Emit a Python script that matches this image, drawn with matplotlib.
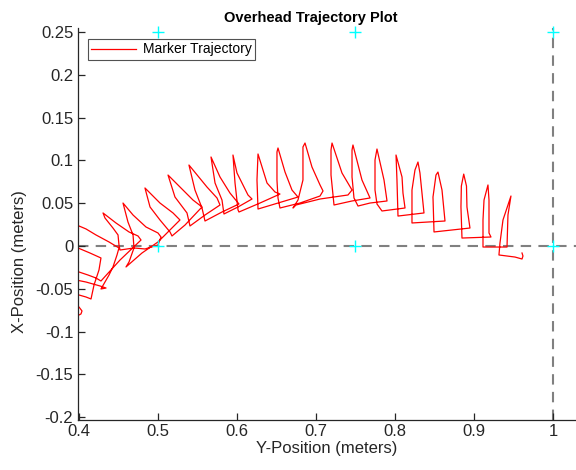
import matplotlib
matplotlib.use("Agg")
import matplotlib.pyplot as plt
from matplotlib.ticker import FixedLocator, FixedFormatter

plt.rcParams['font.family'] = ['Liberation Sans', 'DejaVu Sans']

# Trajectory: Y-position (horizontal axis) and X-position (vertical axis), metres
traj_y = [
    0.3886, 0.3975, 0.4025, 0.4038, 0.4000, 0.3937, 0.3861, 0.3911, 0.4089, 0.4152,
    0.4190, 0.4253, 0.4278,
    0.4139, 0.3987, 0.3861,
    0.3835, 0.3962, 0.4089, 0.4177, 0.4266, 0.4342, 0.4278,
    0.4380, 0.4430, 0.4481, 0.4506,
    0.4380, 0.4215, 0.4089, 0.4000, 0.3962, 0.3886, 0.3962, 0.4114, 0.4215, 0.4278,
    0.4519, 0.4785,
    0.4747, 0.4633, 0.4468, 0.4304, 0.4329, 0.4430, 0.4494, 0.4506, 0.4519,
    0.4696, 0.4835, 0.5000, 0.5038,
    0.5000, 0.4848, 0.4684, 0.4557, 0.4570, 0.4620, 0.4684, 0.4696, 0.4633, 0.4595,
    0.4797, 0.5000, 0.5152, 0.5278,
    0.5190, 0.5025, 0.4835, 0.4899, 0.5025, 0.5152, 0.5177,
    0.5342, 0.5557,
    0.5443, 0.5278, 0.5127, 0.5215, 0.5367, 0.5405,
    0.5595, 0.5785,
    0.5747, 0.5620, 0.5392, 0.5468, 0.5557, 0.5595,
    0.5810, 0.6025,
    0.5911, 0.5785, 0.5671, 0.5722, 0.5810, 0.5835,
    0.6013, 0.6190,
    0.6139, 0.6000, 0.5949, 0.5975, 0.6013, 0.6025,
    0.6291, 0.6544,
    0.6481, 0.6380, 0.6266, 0.6253, 0.6266,
    0.6519, 0.6772,
    0.6696, 0.6608, 0.6519, 0.6506, 0.6506, 0.6519, 0.6544,
    0.6797, 0.7051, 0.7089,
    0.7051, 0.6949, 0.6861, 0.6835, 0.6835, 0.6772, 0.6709,
    0.6747, 0.7051, 0.7405, 0.7456,
    0.7329, 0.7203, 0.7190, 0.7190, 0.7215, 0.7228,
    0.7456, 0.7684,
    0.7582, 0.7468, 0.7456, 0.7456, 0.7481, 0.7532,
    0.7684, 0.7899,
    0.7861, 0.7772, 0.7747, 0.7747, 0.7772, 0.7835,
    0.8127,
    0.8101, 0.8089, 0.8013, 0.8025, 0.8038,
    0.8367,
    0.8342, 0.8316, 0.8291, 0.8253, 0.8215, 0.8215,
    0.8633,
    0.8595, 0.8544, 0.8519, 0.8481, 0.8494,
    0.8949,
    0.8911, 0.8905, 0.8870, 0.8840, 0.8835, 0.8848,
    0.9215,
    0.9190, 0.9190, 0.9177, 0.9127, 0.9114, 0.9114,
    0.9418,
    0.9430, 0.9468, 0.9367, 0.9329, 0.9316,
    0.9519, 0.9608, 0.9620, 0.9608,
]
traj_x = [
    -0.0864, -0.0818, -0.0794, -0.0759, -0.0713, -0.0689, -0.0631, -0.0549, -0.0596, -0.0619,
    -0.0456, -0.0280, -0.0140,
    -0.0082, -0.0023, 0.0047,
    -0.0187, -0.0397, -0.0421, -0.0444, -0.0467, -0.0491, -0.0502,
    -0.0339, -0.0245, -0.0105, -0.0023,
    0.0047, 0.0129, 0.0199, 0.0234, 0.0164, -0.0047, -0.0292, -0.0339, -0.0374, -0.0409,
    -0.0164, 0.0070,
    0.0117, 0.0164, 0.0269, 0.0386, 0.0327, 0.0210, 0.0129, 0.0012, -0.0047,
    -0.0023, -0.0035, 0.0012, 0.0105,
    0.0152, 0.0222, 0.0362, 0.0502, 0.0456, 0.0280, 0.0129, -0.0023, -0.0187, -0.0245,
    -0.0082, 0.0047, 0.0187, 0.0304,
    0.0386, 0.0502, 0.0678, 0.0456, 0.0304, 0.0164, 0.0117,
    0.0245, 0.0456,
    0.0537, 0.0689, 0.0829, 0.0572, 0.0386, 0.0234,
    0.0362, 0.0479,
    0.0561, 0.0689, 0.0946, 0.0654, 0.0444, 0.0292,
    0.0397, 0.0491,
    0.0619, 0.0806, 0.1040, 0.0736, 0.0537, 0.0374,
    0.0456, 0.0549,
    0.0596, 0.0853, 0.1063, 0.0736, 0.0421, 0.0397,
    0.0502, 0.0607,
    0.0631, 0.0736, 0.1075, 0.0771, 0.0432,
    0.0502, 0.0572,
    0.0654, 0.0864, 0.1145, 0.1098, 0.0771, 0.0561, 0.0444,
    0.0502, 0.0584, 0.0643,
    0.0713, 0.0923, 0.1203, 0.1157, 0.0771, 0.0537, 0.0444,
    0.0479, 0.0549, 0.0596, 0.0654,
    0.0853, 0.1203, 0.1121, 0.0829, 0.0596, 0.0479,
    0.0526, 0.0561,
    0.0771, 0.1180, 0.1121, 0.0806, 0.0561, 0.0467,
    0.0502, 0.0526,
    0.0771, 0.1133, 0.1005, 0.0654, 0.0491, 0.0409,
    0.0444,
    0.0619, 0.0806, 0.1063, 0.0771, 0.0350,
    0.0386,
    0.0619, 0.0853, 0.0981, 0.0888, 0.0654, 0.0269,
    0.0292,
    0.0654, 0.0864, 0.0829, 0.0572, 0.0164,
    0.0210,
    0.0456, 0.0700, 0.0840, 0.0700, 0.0456, 0.0093,
    0.0105,
    0.0152, 0.0537, 0.0713, 0.0537, 0.0304, -0.0012,
    -0.0012,
    0.0362, 0.0584, 0.0304, 0.0035, -0.0105,
    -0.0129, -0.0152, -0.0117, -0.0082,
]

# Reference target markers
target_y = [0.5, 0.75, 1.0, 0.5, 0.75, 1.0]
target_x = [0.25, 0.25, 0.25, 0.0, 0.0, 0.0]

x_ticks = [0.4, 0.5, 0.6, 0.7, 0.8, 0.9, 1.0]
x_tick_labels = ['0.4', '0.5', '0.6', '0.7', '0.8', '0.9', '1']
y_ticks = [-0.2, -0.15, -0.1, -0.05, 0, 0.05, 0.1, 0.15, 0.2, 0.25]
y_tick_labels = ['-0.2', '-0.15', '-0.1', '-0.05', '0', '0.05', '0.1', '0.15', '0.2', '0.25']

fig = plt.figure(figsize=(5.76, 4.70), dpi=100)
ax = fig.add_axes([77.5 / 576, 1 - 420 / 470, (575.5 - 77.5) / 576, (420 - 28) / 470])

ax.axhline(0, color='#808080', lw=1.5, ls=(0, (5, 3.5)), zorder=1)
ax.axvline(1.0, color='#808080', lw=1.5, ls=(0, (5, 3.5)), zorder=1)

line, = ax.plot(traj_y, traj_x, color='red', lw=0.9, label='Marker Trajectory', zorder=2)
ax.plot(target_y, target_x, ls='none', marker='+', ms=9, mew=1.0, color='cyan', zorder=3,
        clip_on=False)

ax.set_xlim(0.3981, 1.0285)
ax.set_ylim(-0.2033, 0.2547)

ax.xaxis.set_major_locator(FixedLocator(x_ticks))
ax.xaxis.set_major_formatter(FixedFormatter(x_tick_labels))
ax.yaxis.set_major_locator(FixedLocator(y_ticks))
ax.yaxis.set_major_formatter(FixedFormatter(y_tick_labels))

for side in ['top', 'right']:
    ax.spines[side].set_visible(False)
for side in ['left', 'bottom']:
    ax.spines[side].set_linewidth(0.9)
    ax.spines[side].set_color('#262626')

ax.tick_params(direction='in', length=5, width=0.9, labelsize=12, colors='#262626', pad=3)

ax.set_xlabel('Y-Position (meters)', fontsize=12, color='#262626', labelpad=1)
ax.set_ylabel('X-Position (meters)', fontsize=12, color='#262626')
ax.yaxis.set_label_coords(-0.101, (420 - 262) / 392)
ax.set_title('Overhead Trajectory Plot', fontsize=10.5, fontweight='bold', x=0.469, pad=4)

leg = ax.legend(handles=[line], loc='upper left', bbox_to_anchor=(88 / 576, 1 - 39 / 470),
                bbox_transform=fig.transFigure, fontsize=10, frameon=True, fancybox=False,
                edgecolor='#262626', borderpad=0.25, handlelength=3.2, handletextpad=0.5,
                borderaxespad=0)
leg.get_frame().set_linewidth(0.8)

fig.savefig('out.png', dpi=100)
